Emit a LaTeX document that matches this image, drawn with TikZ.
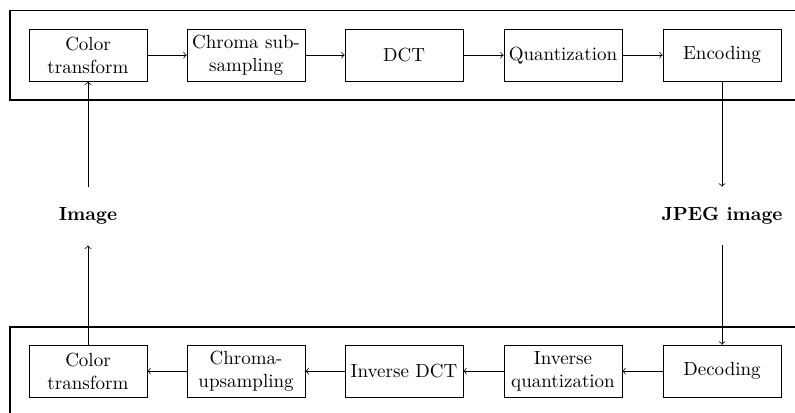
\documentclass[tikz,border=0pt]{standalone}
\usetikzlibrary{positioning}

\tikzset{
  stage/.style={draw, align=center, minimum width=2.18cm, minimum height=0.96cm, inner sep=2pt},
  endpoint/.style={font=\bfseries, minimum height=1.07cm},
  frame/.style={draw, thick},
  flow/.style={->}
}

\begin{document}
\begin{tikzpicture}
    \clip (0,0) rectangle (14.70,7.62);
    % Frames
    \draw[frame] (0.185,7.43) rectangle (15.5,5.77);
    \draw[frame] (0.185,-1) rectangle (15.5,1.57);
    % Encoder
    \node[stage] (ctA) at (1.627,6.60) {Color\\transform};
    \node[stage] (sub) at (4.55,6.60) {Chroma sub-\\sampling};
    \node[stage] (dct) at (7.47,6.60) {DCT};
    \node[stage] (quant) at (10.41,6.60) {Quantization};
    \node[stage] (enc) at (13.35,6.60) {Encoding};
    % Decoder
    \node[stage] (ctB) at (1.627,0.758) {Color\\transform};
    \node[stage] (up) at (4.55,0.758) {Chroma-\\upsampling};
    \node[stage] (idct) at (7.47,0.758) {Inverse DCT};
    \node[stage] (iquant) at (10.41,0.758) {Inverse\\quantization};
    \node[stage] (dec) at (13.35,0.758) {Decoding};
    % Images
    \node[endpoint] (img) at (1.627,3.624) {Image};
    \node[endpoint] (jpeg) at (13.35,3.624) {JPEG image};
    % Arrows
    \draw[flow] (ctA) -- (sub);
    \draw[flow] (sub) -- (dct);
    \draw[flow] (dct) -- (quant);
    \draw[flow] (quant) -- (enc);
    \draw[flow] (enc) -- (jpeg);
    \draw[flow] (jpeg) -- (dec);
    \draw[flow] (dec) -- (iquant);
    \draw[flow] (iquant) -- (idct);
    \draw[flow] (idct) -- (up);
    \draw[flow] (up) -- (ctB);
    \draw[flow] (ctB) -- (img);
    \draw[flow] (img) -- (ctA);
\end{tikzpicture}
\end{document}
